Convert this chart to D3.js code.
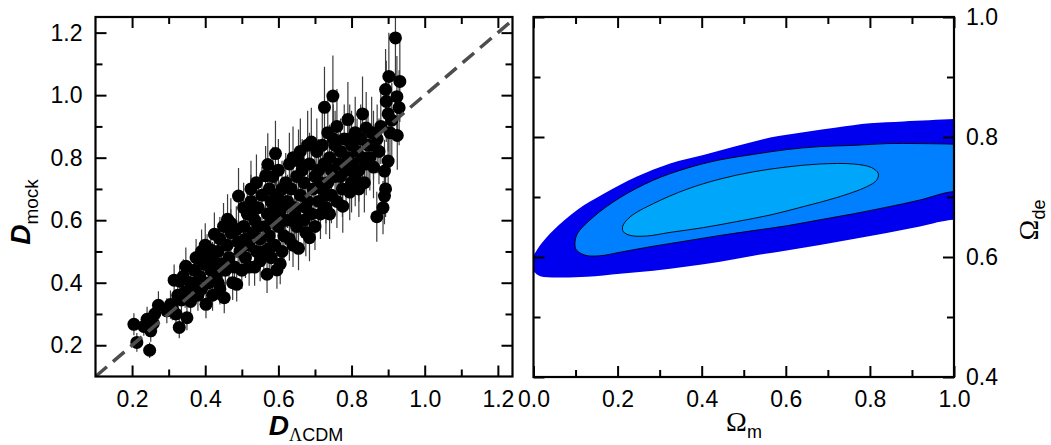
<!DOCTYPE html>
<html><head><meta charset="utf-8">
<script src="https://cdn.jsdelivr.net/npm/d3@7"></script>
<style>body{margin:0;background:#fff}</style>
</head><body><svg id="c" width="1051" height="445"></svg>
<script>
// ---------- data ----------
// scatter: [D_LCDM, D_mock, error]
const points = [
[0.205,0.267,0.035],[0.213,0.209,0.03],[0.248,0.184,0.025],[0.251,0.246,0.035],[0.241,0.283,0.04],[0.262,0.30,0.04],[0.272,0.328,0.045],[0.258,0.27,0.035],[0.232,0.26,0.03],
[0.295,0.31,0.04],[0.305,0.33,0.045],[0.315,0.408,0.05],[0.33,0.405,0.05],[0.329,0.257,0.035],[0.35,0.288,0.04],[0.32,0.30,0.04],[0.335,0.345,0.05],[0.345,0.37,0.05],[0.31,0.32,0.04],[0.34,0.42,0.055],[0.347,0.453,0.06],[0.325,0.36,0.045],
[0.36,0.40,0.05],[0.37,0.44,0.06],[0.375,0.48,0.06],[0.38,0.36,0.05],[0.385,0.42,0.055],[0.39,0.38,0.05],[0.395,0.46,0.06],[0.40,0.52,0.07],[0.402,0.331,0.045],[0.41,0.40,0.05],[0.405,0.49,0.065],[0.415,0.44,0.06],[0.42,0.36,0.05],[0.36,0.34,0.045],[0.37,0.39,0.05],[0.39,0.50,0.07],[0.415,0.505,0.065],[0.42,0.47,0.06],
[0.425,0.555,0.07],[0.43,0.42,0.06],[0.435,0.50,0.065],[0.44,0.38,0.05],[0.445,0.46,0.06],[0.45,0.58,0.075],[0.452,0.352,0.05],[0.455,0.44,0.06],[0.461,0.603,0.08],[0.46,0.52,0.07],[0.465,0.48,0.065],[0.47,0.56,0.075],[0.475,0.40,0.055],[0.48,0.45,0.06],[0.486,0.395,0.055],[0.49,0.53,0.07],[0.491,0.677,0.09],[0.495,0.50,0.065],[0.43,0.46,0.06],[0.44,0.54,0.07],[0.47,0.59,0.08],[0.485,0.57,0.075],[0.50,0.44,0.06],[0.435,0.40,0.055],
[0.505,0.58,0.075],[0.51,0.48,0.065],[0.515,0.62,0.08],[0.52,0.52,0.07],[0.52,0.45,0.06],[0.525,0.66,0.085],[0.53,0.56,0.075],[0.535,0.45,0.06],[0.535,0.60,0.08],[0.54,0.72,0.09],[0.54,0.50,0.065],[0.545,0.64,0.085],[0.55,0.54,0.07],[0.55,0.47,0.065],[0.555,0.68,0.09],[0.51,0.54,0.07],[0.53,0.63,0.08],[0.545,0.58,0.075],[0.56,0.50,0.065],[0.565,0.742,0.095],[0.505,0.64,0.08],[0.525,0.70,0.09],
[0.569,0.427,0.06],[0.571,0.778,0.1],[0.57,0.62,0.08],[0.575,0.55,0.075],[0.575,0.70,0.09],[0.58,0.66,0.085],[0.58,0.48,0.065],[0.585,0.60,0.08],[0.585,0.74,0.095],[0.59,0.52,0.07],[0.592,0.813,0.105],[0.595,0.68,0.09],[0.596,0.441,0.06],[0.60,0.76,0.1],[0.60,0.58,0.075],[0.605,0.63,0.085],[0.61,0.50,0.07],[0.61,0.70,0.09],[0.615,0.55,0.075],[0.62,0.72,0.095],[0.62,0.60,0.08],[0.565,0.58,0.075],[0.59,0.64,0.085],[0.6,0.67,0.09],[0.615,0.65,0.085],[0.605,0.46,0.065],[0.575,0.51,0.07],
[0.625,0.66,0.085],[0.63,0.78,0.1],[0.63,0.54,0.07],[0.635,0.70,0.09],[0.64,0.52,0.07],[0.64,0.80,0.1],[0.645,0.62,0.08],[0.65,0.74,0.095],[0.65,0.58,0.075],[0.655,0.51,0.07],[0.66,0.68,0.09],[0.66,0.82,0.105],[0.665,0.76,0.1],[0.67,0.60,0.08],[0.67,0.72,0.095],[0.675,0.56,0.075],[0.68,0.84,0.11],[0.68,0.66,0.085],[0.685,0.544,0.075],[0.685,0.78,0.1],[0.69,0.85,0.11],[0.69,0.62,0.08],[0.695,0.70,0.09],[0.70,0.74,0.095],[0.70,0.58,0.075],[0.645,0.64,0.085],[0.655,0.79,0.1],[0.635,0.60,0.08],[0.675,0.64,0.085],
[0.705,0.82,0.105],[0.71,0.66,0.085],[0.71,0.76,0.1],[0.715,0.62,0.08],[0.72,0.84,0.11],[0.72,0.70,0.09],[0.726,0.961,0.13],[0.725,0.78,0.1],[0.73,0.64,0.085],[0.735,0.88,0.115],[0.735,0.72,0.095],[0.74,0.62,0.08],[0.74,0.80,0.105],[0.745,0.68,0.09],[0.749,0.997,0.13],[0.75,0.86,0.11],[0.755,0.74,0.095],[0.76,0.90,0.12],[0.76,0.66,0.085],[0.765,0.78,0.1],[0.77,0.82,0.105],[0.775,0.70,0.09],[0.776,0.645,0.085],[0.78,0.86,0.11],[0.715,0.72,0.095],[0.73,0.68,0.09],[0.745,0.76,0.1],[0.755,0.84,0.11],[0.77,0.74,0.095],
[0.785,0.76,0.1],[0.79,0.922,0.12],[0.79,0.80,0.105],[0.795,0.69,0.09],[0.80,0.84,0.11],[0.80,0.72,0.095],[0.805,0.78,0.1],[0.81,0.88,0.115],[0.81,0.74,0.095],[0.815,0.82,0.105],[0.82,0.76,0.1],[0.825,0.86,0.11],[0.83,0.94,0.12],[0.83,0.80,0.105],[0.835,0.72,0.095],[0.84,0.895,0.115],[0.84,0.78,0.1],[0.845,0.84,0.11],[0.85,0.80,0.105],[0.855,0.88,0.115],[0.86,0.77,0.1],[0.86,0.84,0.11],[0.795,0.86,0.11],[0.82,0.70,0.09],
[0.869,0.611,0.08],[0.886,0.64,0.085],[0.89,0.677,0.09],[0.893,0.70,0.09],[0.89,0.757,0.1],[0.90,0.789,0.1],[0.925,0.871,0.11],[0.93,0.96,0.12],[0.924,0.995,0.13],[0.932,1.044,0.13],[0.902,1.06,0.14],[0.893,1.018,0.13],[0.895,0.98,0.13],[0.90,0.94,0.12],[0.92,1.183,0.15],[0.88,0.90,0.12],[0.91,0.92,0.12],[0.905,0.88,0.115],[0.87,0.86,0.11],[0.875,0.82,0.105]
];
const diagonal = [[0.1,0.1],[1.235,1.235]];

// confidence regions: [Omega_m, Omega_de]
const contourOuter = [
[0,0.603],[0.016,0.620],[0.048,0.645],[0.103,0.678],[0.166,0.705],[0.246,0.734],[0.325,0.756],[0.404,0.770],[0.483,0.785],[0.563,0.799],[0.642,0.808],[0.721,0.816],[0.800,0.823],[0.880,0.826],[1.0,0.830],[1.06,0.832],
[1.06,0.657],[1.0,0.662],[0.919,0.651],[0.840,0.640],[0.761,0.630],[0.681,0.620],[0.602,0.611],[0.523,0.602],[0.444,0.592],[0.365,0.584],[0.285,0.577],[0.206,0.572],[0.127,0.567],[0.055,0.566],[0.016,0.568],[0,0.576],[-0.02,0.588]
];
const contourMiddle = [
[0.099,0.617],[0.103,0.637],[0.143,0.667],[0.206,0.699],[0.285,0.728],[0.365,0.748],[0.444,0.762],[0.523,0.771],[0.602,0.779],[0.681,0.784],[0.761,0.786],[0.840,0.789],[0.919,0.789],[1.0,0.788],[1.06,0.786],
[1.06,0.703],[1.0,0.709],[0.919,0.695],[0.840,0.683],[0.761,0.672],[0.681,0.662],[0.602,0.652],[0.523,0.644],[0.444,0.636],[0.365,0.627],[0.285,0.618],[0.206,0.608],[0.158,0.602],[0.123,0.603],[0.103,0.611]
];
const contourInner = [
[0.212,0.651],[0.230,0.667],[0.285,0.689],[0.365,0.713],[0.444,0.730],[0.523,0.742],[0.602,0.750],[0.681,0.755],[0.761,0.755],[0.804,0.749],[0.820,0.739],[0.816,0.728],[0.792,0.717],[0.721,0.699],[0.642,0.684],[0.563,0.670],[0.483,0.659],[0.404,0.649],[0.325,0.641],[0.269,0.635],[0.230,0.636],[0.214,0.642]
];
const contourColors = ["#0000EE","#0080FF","#00A6FA"];

// ticks
const leftXMajor = [0.2,0.4,0.6,0.8,1.0,1.2];
const leftXMinor = [0.3,0.5,0.7,0.9,1.1];
const leftYMajor = [0.2,0.4,0.6,0.8,1.0,1.2];
const leftYMinor = [0.3,0.5,0.7,0.9,1.1];
const rightXMajor = [0.0,0.2,0.4,0.6,0.8,1.0];
const rightXMinor = [0.1,0.3,0.5,0.7,0.9];
const rightYMajor = [0.4,0.6,0.8,1.0];
const rightYMinor = [0.5,0.7,0.9];

// ---------- drawing ----------
const svg = d3.select("#c");
const FONT = "'Liberation Sans', Arial, Helvetica, sans-serif";
const SERIF = "'Liberation Serif', 'Times New Roman', serif";
const MAJ = 11, MIN = 7;

const L = {x0:95.5, x1:512.5, y0:17, y1:376.5};
const R = {x0:533.5, x1:954, y0:17, y1:377};

const xL = d3.scaleLinear().domain([0.1,1.24]).range([L.x0,L.x1]);
const yL = d3.scaleLinear().domain([0.1,1.25]).range([L.y1,L.y0]);
const xR = d3.scaleLinear().domain([0,1]).range([R.x0,R.x1]);
const yR = d3.scaleLinear().domain([0.4,1.0]).range([R.y1,R.y0]);

const defs = svg.append("defs");
defs.append("clipPath").attr("id","clipL").append("rect")
  .attr("x",L.x0).attr("y",L.y0).attr("width",L.x1-L.x0).attr("height",L.y1-L.y0);
defs.append("clipPath").attr("id","clipR").append("rect")
  .attr("x",R.x0).attr("y",R.y0).attr("width",R.x1-R.x0).attr("height",R.y1-R.y0);

// ---- left panel ----
const gL = svg.append("g").attr("clip-path","url(#clipL)");
gL.selectAll("line.err").data(points).join("line")
  .attr("x1",d=>xL(d[0])).attr("x2",d=>xL(d[0]))
  .attr("y1",d=>yL(d[1]-d[2])).attr("y2",d=>yL(d[1]+d[2]))
  .attr("stroke","#3c3c3c").attr("stroke-width",1.2);
gL.selectAll("circle").data(points).join("circle")
  .attr("cx",d=>xL(d[0])).attr("cy",d=>yL(d[1])).attr("r",6.5).attr("fill","#000");
gL.append("path").datum(diagonal)
  .attr("d",d3.line().x(d=>xL(d[0])).y(d=>yL(d[1])))
  .attr("stroke","#4d4d4d").attr("stroke-width",3.5).attr("stroke-dasharray","15,8").attr("fill","none");

// ---- right panel ----
const gR = svg.append("g").attr("clip-path","url(#clipR)");
const cl = d3.line().x(d=>xR(d[0])).y(d=>yR(d[1])).curve(d3.curveCatmullRomClosed.alpha(0.5));
gR.append("path").datum(contourOuter).attr("d",cl).attr("fill",contourColors[0]).attr("stroke","none");
gR.append("path").datum(contourMiddle).attr("d",cl).attr("fill",contourColors[1]).attr("stroke","#000").attr("stroke-width",0.9);
gR.append("path").datum(contourInner).attr("d",cl).attr("fill",contourColors[2]).attr("stroke","#000").attr("stroke-width",0.9);

// ---- axes helper ----
function styleAxis(g){
  g.select(".domain").remove();
  g.selectAll(".tick line").attr("stroke","#000").attr("stroke-width",2);
  g.selectAll(".tick text").attr("font-family",FONT).attr("font-size",23).attr("fill","#000");
}
function fmt(v){return d3.format(".1f")(v);}
function axes(xs, ys, P, xMaj, xMin, yMaj, yMin, yLabelsRight){
  svg.append("g").attr("transform",`translate(0,${P.y1})`)
    .call(d3.axisBottom(xs).tickValues(xMaj).tickSize(-MAJ).tickPadding(14).tickFormat(fmt)).call(styleAxis);
  svg.append("g").attr("transform",`translate(0,${P.y1})`)
    .call(d3.axisBottom(xs).tickValues(xMin).tickSize(-MIN).tickFormat("")).call(styleAxis);
  svg.append("g").attr("transform",`translate(0,${P.y0})`)
    .call(d3.axisTop(xs).tickValues(xMaj).tickSize(-MAJ).tickFormat("")).call(styleAxis);
  svg.append("g").attr("transform",`translate(0,${P.y0})`)
    .call(d3.axisTop(xs).tickValues(xMin).tickSize(-MIN).tickFormat("")).call(styleAxis);
  svg.append("g").attr("transform",`translate(${P.x0},0)`)
    .call(d3.axisLeft(ys).tickValues(yMaj).tickSize(-MAJ).tickPadding(13).tickFormat(yLabelsRight?"":fmt)).call(styleAxis);
  svg.append("g").attr("transform",`translate(${P.x0},0)`)
    .call(d3.axisLeft(ys).tickValues(yMin).tickSize(-MIN).tickFormat("")).call(styleAxis);
  svg.append("g").attr("transform",`translate(${P.x1},0)`)
    .call(d3.axisRight(ys).tickValues(yMaj).tickSize(-MAJ).tickPadding(12).tickFormat(yLabelsRight?fmt:"")).call(styleAxis);
  svg.append("g").attr("transform",`translate(${P.x1},0)`)
    .call(d3.axisRight(ys).tickValues(yMin).tickSize(-MIN).tickFormat("")).call(styleAxis);
  svg.append("rect").attr("x",P.x0).attr("y",P.y0).attr("width",P.x1-P.x0).attr("height",P.y1-P.y0)
    .attr("fill","none").attr("stroke","#000").attr("stroke-width",2.2);
}
axes(xL,yL,L,leftXMajor,leftXMinor,leftYMajor,leftYMinor,false);
axes(xR,yR,R,rightXMajor,rightXMinor,rightYMajor,rightYMinor,true);

// ---- axis titles ----
const tx = svg.append("text").attr("x",306).attr("y",435).attr("text-anchor","middle").attr("font-family",FONT);
tx.append("tspan").attr("font-size",28).attr("font-weight","bold").attr("font-style","italic").text("D");
tx.append("tspan").attr("font-size",18).attr("dy",6).attr("font-family",SERIF).text("Λ");
tx.append("tspan").attr("font-size",18).text("CDM");

const ty = svg.append("text").attr("transform","translate(30,212) rotate(-90)").attr("text-anchor","middle").attr("font-family",FONT);
ty.append("tspan").attr("font-size",28).attr("font-weight","bold").attr("font-style","italic").text("D");
ty.append("tspan").attr("font-size",19).attr("dy",8).text("mock");

const tm = svg.append("text").attr("x",744).attr("y",431).attr("text-anchor","middle");
tm.append("tspan").attr("font-family",SERIF).attr("font-size",28).text("Ω");
tm.append("tspan").attr("font-family",FONT).attr("font-size",18).attr("dy",7).text("m");

const td = svg.append("text").attr("transform","translate(1038,220) rotate(-90)").attr("text-anchor","middle");
td.append("tspan").attr("font-family",SERIF).attr("font-size",28).text("Ω");
td.append("tspan").attr("font-family",FONT).attr("font-size",18).attr("dy",7).text("de");
</script></body></html>
